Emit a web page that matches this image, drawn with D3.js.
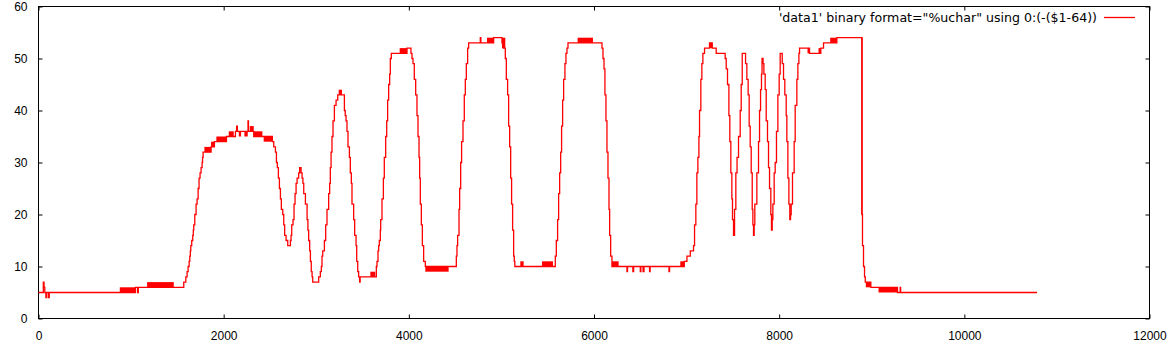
<!DOCTYPE html>
<html lang="en">
<head>
    <meta charset="UTF-8">
    <title>data1</title>
    <script src="https://d3js.org/d3.v7.min.js"></script>
    <style>
        body { margin: 0; background: #fff; }
        text { font-family: "Liberation Sans", Arial, sans-serif; font-size: 12px; fill: #000; }
        .key { font-family: "DejaVu Sans", Verdana, sans-serif; font-size: 12.6px; }
    </style>
</head>
<body>
    <svg width="1172" height="353"></svg>
    <script>
        // sample index, byte level (step changes)
        const leadIn = [[0,5],[52,7],[60,6],[68,5],[80,4],[88,5],[108,4],[116,5],[878,5],[1047,6],[1070,5],[1078,6]];
        const dome = [[1569,7],[1591,8],[1605,9],[1616,10],[1627,11],[1634,12],[1640,13],[1645,14],[1655,15],[1666,16],[1672,17],
            [1677,18],[1688,20],[1702,22],[1713,23],[1724,25],[1734,27],[1745,28],[1756,29],[1767,30],[1772,31],[1778,32],
            [1864,33],[1900,34],[2030,35],[2127,36],[2140,37],[2148,36],[2263,38],[2268,36],[2325,35],[2526,34],
            [2541,33],[2559,32],[2570,30],[2580,29],[2591,27],[2602,25],[2613,23],[2623,21],[2638,20],[2649,18],[2659,16],
            [2674,15],[2692,14],[2721,15],[2728,16],[2735,18],[2749,19],[2760,22],[2771,24],[2782,26],[2793,27],[2810,28],
            [2821,29],[2836,28],[2847,27],[2856,26],[2865,24],[2883,22],[2901,19],[2910,17],[2918,15],[2929,13],[2937,11],
            [2946,9],[2955,8],[2962,7]];
        const twinPeaks = [[3026,8],[3044,9],[3055,10],[3062,12],[3070,13],[3088,15],[3102,18],[3116,21],[3134,24],[3145,26],
            [3152,29],[3160,32],[3170,35],[3181,38],[3196,41],[3214,42],[3232,43],[3289,43],[3304,40],[3313,39],[3322,38],
            [3332,36],[3343,33],[3358,31],[3368,28],[3379,26],[3386,22],[3404,19],[3415,16],[3430,14],[3437,11],[3448,9],
            [3458,8],[3469,7],[3474,8],[3649,10],[3656,11],[3667,13],[3674,14],[3681,15],[3692,17],[3696,19],[3710,23],
            [3725,27],[3735,31],[3750,35],[3761,38],[3771,42],[3782,45],[3793,47],[3800,50],[3811,51],[3980,52],[4023,51],
            [4034,50],[4045,49],[4059,46],[4074,43],[4088,39],[4099,35],[4110,31],[4117,27],[4124,22],[4135,18],[4146,14],
            [4160,11],[4178,10]];
        const plateaus = [[4513,12],[4520,14],[4527,16],[4542,21],[4549,25],[4560,30],[4570,34],[4585,38],[4599,43],[4610,46],
            [4621,49],[4635,52],[4646,53],[4772,54],[4778,53],[4916,54],[5006,53],[5020,52],[5042,50],[5053,46],[5067,43],
            [5078,37],[5089,33],[5100,27],[5110,22],[5121,17],[5132,12],[5139,11],[5145,10],[5582,12],[5593,15],[5607,19],
            [5618,24],[5629,28],[5640,32],[5650,37],[5661,42],[5672,46],[5686,49],[5697,51],[5708,52],[5719,53],[6086,52],
            [6097,50],[6108,48],[6118,43],[6129,38],[6140,32],[6151,27],[6162,21],[6169,16],[6180,12],[6194,10],[6356,9],
            [6362,10],[6420,9],[6428,10],[6500,9],[6506,10],[6530,9],[6540,10],[6600,9],[6606,10],[6810,9],[6816,10],
            [6975,11],[7004,12],[7040,13]];
        const ripples = [[7075,14],[7086,18],[7100,22],[7111,28],[7122,31],[7133,35],[7140,40],[7154,46],[7165,49],[7176,51],
            [7194,52],[7248,53],[7277,52],[7320,51],[7417,50],[7428,48],[7442,45],[7457,39],[7467,34],[7478,28],[7489,23],
            [7496,19],[7507,16],[7518,21],[7532,28],[7545,31],[7561,35],[7579,40],[7590,45],[7601,51],[7637,49],[7651,46],
            [7665,43],[7676,37],[7687,33],[7698,28],[7709,21],[7716,18],[7723,16],[7730,18],[7737,22],[7759,28],[7777,34],
            [7788,40],[7799,44],[7809,47],[7815,50],[7826,49],[7835,47],[7849,44],[7860,38],[7874,34],[7885,29],[7896,25],
            [7910,20],[7917,17],[7925,19],[7932,22],[7946,28],[7957,30],[7971,36],[7986,43],[8000,47],[8011,51],[8033,49],
            [8047,46],[8061,43],[8076,39],[8083,34],[8094,27],[8105,22],[8115,19],[8123,20],[8130,22],[8144,28],[8162,34],
            [8173,41],[8191,46],[8202,49],[8213,51],[8220,52]];
        const shelfAndDrop = [[8328,51],[8450,52],[8479,53],[8623,54],[8895,20],[8900,14],[8911,10],[8922,8],[8930,7],
            [8990,6],[9278,5],[9307,6],[9312,5],[10785,5]];

        // stretches where the value flickers between two levels: [from, to, low, high]
        const flicker = [[878,1047,5,6],[1173,1461,6,7],[1792,1864,32,33],[1864,1900,33,34],[1921,2030,34,35],[2055,2109,35,36],
            [2163,2188,35,36],[2224,2260,35,36],[2282,2325,36,37],[2325,2418,35,36],[2432,2526,34,35],[3242,3278,43,44],
            [3584,3638,8,9],[3901,3980,51,52],[4178,4430,9,10],[4844,4916,53,54],[5006,5042,52,54],[5204,5240,10,11],
            [5438,5557,10,11],[5823,5989,53,54],[6194,6266,10,11],[6932,6975,10,11],[7248,7277,52,53],[8306,8328,51,52],
            [8425,8450,51,52],[8551,8623,53,54],[8886,8900,20,54],[8936,8990,6,7],[9073,9278,5,6]];

        const xTicks = [0, 2000, 4000, 6000, 8000, 10000, 12000];
        const yTicks = [0, 10, 20, 30, 40, 50, 60];
        const legendLabel = "'data1' binary format=\"%uchar\" using 0:(-($1-64))";

        const series = [].concat(leadIn, dome, twinPeaks, plateaus, ripples, shelfAndDrop);

        const svg = d3.select("svg");
        const plotLeft = 38.5, plotRight = 1149.5, plotTop = 6.5, plotBottom = 318.5;

        const x = d3.scaleLinear().domain([0, 12000]).range([plotLeft, plotRight]);
        const y = d3.scaleLinear().domain([0, 60]).range([plotBottom, plotTop]);

        // ticks, gnuplot style: inward, mirrored on all four sides
        svg.append("g")
            .attr("transform", `translate(0,${plotBottom})`)
            .call(d3.axisBottom(x).tickValues(xTicks).tickFormat(d3.format("d"))
                .tickSizeInner(-4).tickSizeOuter(0).tickPadding(13))
            .call(g => g.select(".domain").remove());
        svg.append("g")
            .attr("transform", `translate(0,${plotTop})`)
            .call(d3.axisTop(x).tickValues(xTicks).tickSizeInner(-4).tickSizeOuter(0).tickFormat(""))
            .call(g => g.select(".domain").remove());
        svg.append("g")
            .attr("transform", `translate(${plotLeft},0)`)
            .call(d3.axisLeft(y).tickValues(yTicks).tickFormat(d3.format("d"))
                .tickSizeInner(-4).tickSizeOuter(0).tickPadding(11))
            .call(g => g.select(".domain").remove());
        svg.append("g")
            .attr("transform", `translate(${plotRight},0)`)
            .call(d3.axisRight(y).tickValues(yTicks).tickSizeInner(-4).tickSizeOuter(0).tickFormat(""))
            .call(g => g.select(".domain").remove());

        svg.selectAll(".tick text")
            .style("font-family", "'Liberation Sans', Arial, sans-serif")
            .style("font-size", "12px")
            .attr("fill", "#000");
        svg.selectAll(".tick line").attr("stroke", "#000");

        svg.append("rect")
            .attr("x", plotLeft).attr("y", plotTop)
            .attr("width", plotRight - plotLeft).attr("height", plotBottom - plotTop)
            .attr("fill", "none").attr("stroke", "#000").attr("stroke-width", 1);

        svg.append("g").selectAll("rect")
            .data(flicker)
            .join("rect")
            .attr("x", d => x(d[0]))
            .attr("width", d => Math.max(1.3, x(d[1]) - x(d[0])))
            .attr("y", d => y(d[3]))
            .attr("height", d => y(d[2]) - y(d[3]))
            .attr("fill", "#ff0000");

        const line = d3.line()
            .x(d => x(d[0]))
            .y(d => y(d[1]))
            .curve(d3.curveStepAfter);

        svg.append("path")
            .datum(series)
            .attr("d", line)
            .attr("fill", "none")
            .attr("stroke", "#ff0000")
            .attr("stroke-width", 1.3);

        // key
        svg.append("text")
            .attr("class", "key")
            .attr("x", 1097).attr("y", 21.5)
            .attr("text-anchor", "end")
            .text(legendLabel);
        svg.append("line")
            .attr("x1", 1104).attr("x2", 1135)
            .attr("y1", 17.5).attr("y2", 17.5)
            .attr("stroke", "#ff0000").attr("stroke-width", 1.3);
    </script>
</body>
</html>
